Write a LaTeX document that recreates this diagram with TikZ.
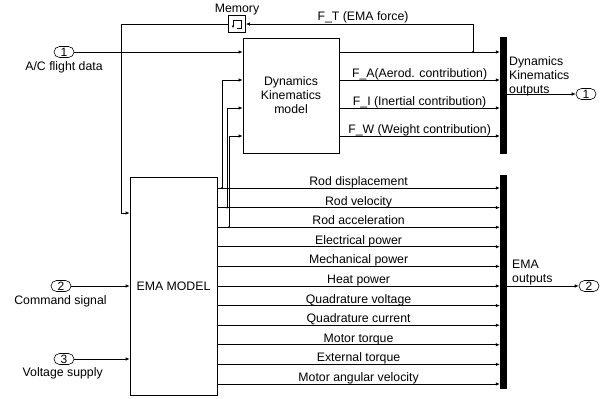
\documentclass[tikz,border=0pt]{standalone}
\usepackage{fontspec}
\setmainfont{Liberation Sans}
\usetikzlibrary{arrows.meta,calc}

\tikzset{
  sig/.style={-{Latex[length=4pt,width=3.5pt]},line width=0.7pt},
  blk/.style={draw,line width=0.7pt,align=center,font=\fontsize{12.3}{14}\selectfont},
  port/.style={draw,line width=0.6pt,rounded corners=5.5pt,minimum width=20pt,minimum height=11pt,inner sep=0pt,font=\fontsize{12}{12}\selectfont},
  bus/.style={fill=black,draw=none,minimum width=7pt,inner sep=0pt},
  lbl/.style={font=\fontsize{12.3}{14}\selectfont,inner sep=0pt},
  jdot/.style={fill=black}
}

\begin{document}
\begin{tikzpicture}[x=1pt,y=-1pt]
\useasboundingbox (0,0) rectangle (606,399);
% blocks
\node[blk,minimum width=96pt,minimum height=115pt] (dyn) at (291,95.5) {Dynamics\\Kinematics\\model};
\node[blk,minimum width=87pt,minimum height=218pt] (ema) at (173.5,286) {EMA MODEL};
\node[blk,minimum size=17pt,inner sep=0pt] (mem) at (237,24) {};
\node[lbl,anchor=base] (memlbl) at (237,12) {Memory};
\draw[line width=0.5pt,-{Latex[length=2.5pt,width=2.5pt]}] ([shift={(0,4)}]mem.center) -| ([shift={(4,-4)}]mem.center) -| ([shift={(-4,4)}]mem.center);
\node[bus,minimum height=117pt] (bus1) at (503.5,95.5) {};
\node[bus,minimum height=214pt] (bus2) at (503.5,282) {};
% ports
\node[port] (in1) at (64,52) {1};
\node[port] (in2) at (61,286) {2};
\node[port] (in3) at (64,359) {3};
\node[port] (out1) at (586,94) {1};
\node[port] (out2) at (589,286) {2};
\node[lbl,anchor=base] (in1lbl) at (64,70.5) {A/C flight data};
\node[lbl,anchor=base] (in2lbl) at (60.5,304.3) {Command signal};
\node[lbl,anchor=base] (in3lbl) at (62.7,376.5) {Voltage supply};
\node[lbl,align=left,anchor=west] (bus1lbl) at (509,76) {Dynamics\\Kinematics\\outputs};
\node[lbl,align=left,anchor=west] (bus2lbl) at (512,273) {EMA\\outputs};
% inputs
\draw[sig] (in1.east) -- (in1.east -| dyn.west);
\draw[sig] (in2.east) -- (in2.east -| ema.west);
\draw[sig] (in3.east) -- (in3.east -| ema.west);
% dynamics outputs
\coordinate (ft) at (473,52);
\draw[sig] (dyn.east |- ft) -- (bus1.west |- ft);
\fill[jdot] (ft) circle (1.1pt);
\draw[sig] (ft) |- (mem.east);
\node[lbl,anchor=base] (ftlbl) at (363,20.5) {F\_T (EMA force)};
\foreach \yy/\txt in {80/F\_A(Aerod. contribution),108/F\_I (Inertial contribution),136/F\_W (Weight contribution)}
  \draw[sig] (dyn.east |- 0,\yy) -- (bus1.west |- 0,\yy) node[lbl,midway,anchor=base,yshift=2.5pt] {\txt};
% EMA outputs
\foreach \i/\txt in {0/Rod displacement,1/Rod velocity,2/Rod acceleration,3/Electrical power,4/Mechanical power,5/Heat power,6/Quadrature voltage,7/Quadrature current,8/Motor torque,9/External torque,10/Motor angular velocity}{
  \pgfmathsetmacro\yy{188+19.6*\i}
  \draw[sig] (ema.east |- 0,\yy) -- (bus2.west |- 0,\yy) node[lbl,midway,anchor=base,yshift=2.5pt] {\txt};
}
% feedback to dynamics
\coordinate (r0) at (222,188);
\coordinate (r1) at (227,207.6);
\coordinate (r2) at (229,227.2);
\draw[sig] (r0) |- (dyn.west |- 0,80);
\draw[sig] (r1) |- (dyn.west |- 0,108);
\draw[sig] (r2) |- (dyn.west |- 0,136);
\foreach \r in {r0,r1,r2} \fill[jdot] (\r) circle (1.1pt);
% memory feedback
\coordinate (fb) at (121,213);
\draw[sig] (mem.west) -| (fb) -- (fb -| ema.west);
% bus outputs
\draw[sig] (bus1.east |- out1) -- (out1.west);
\draw[sig] (bus2.east |- out2) -- (out2.west);
\end{tikzpicture}
\end{document}
